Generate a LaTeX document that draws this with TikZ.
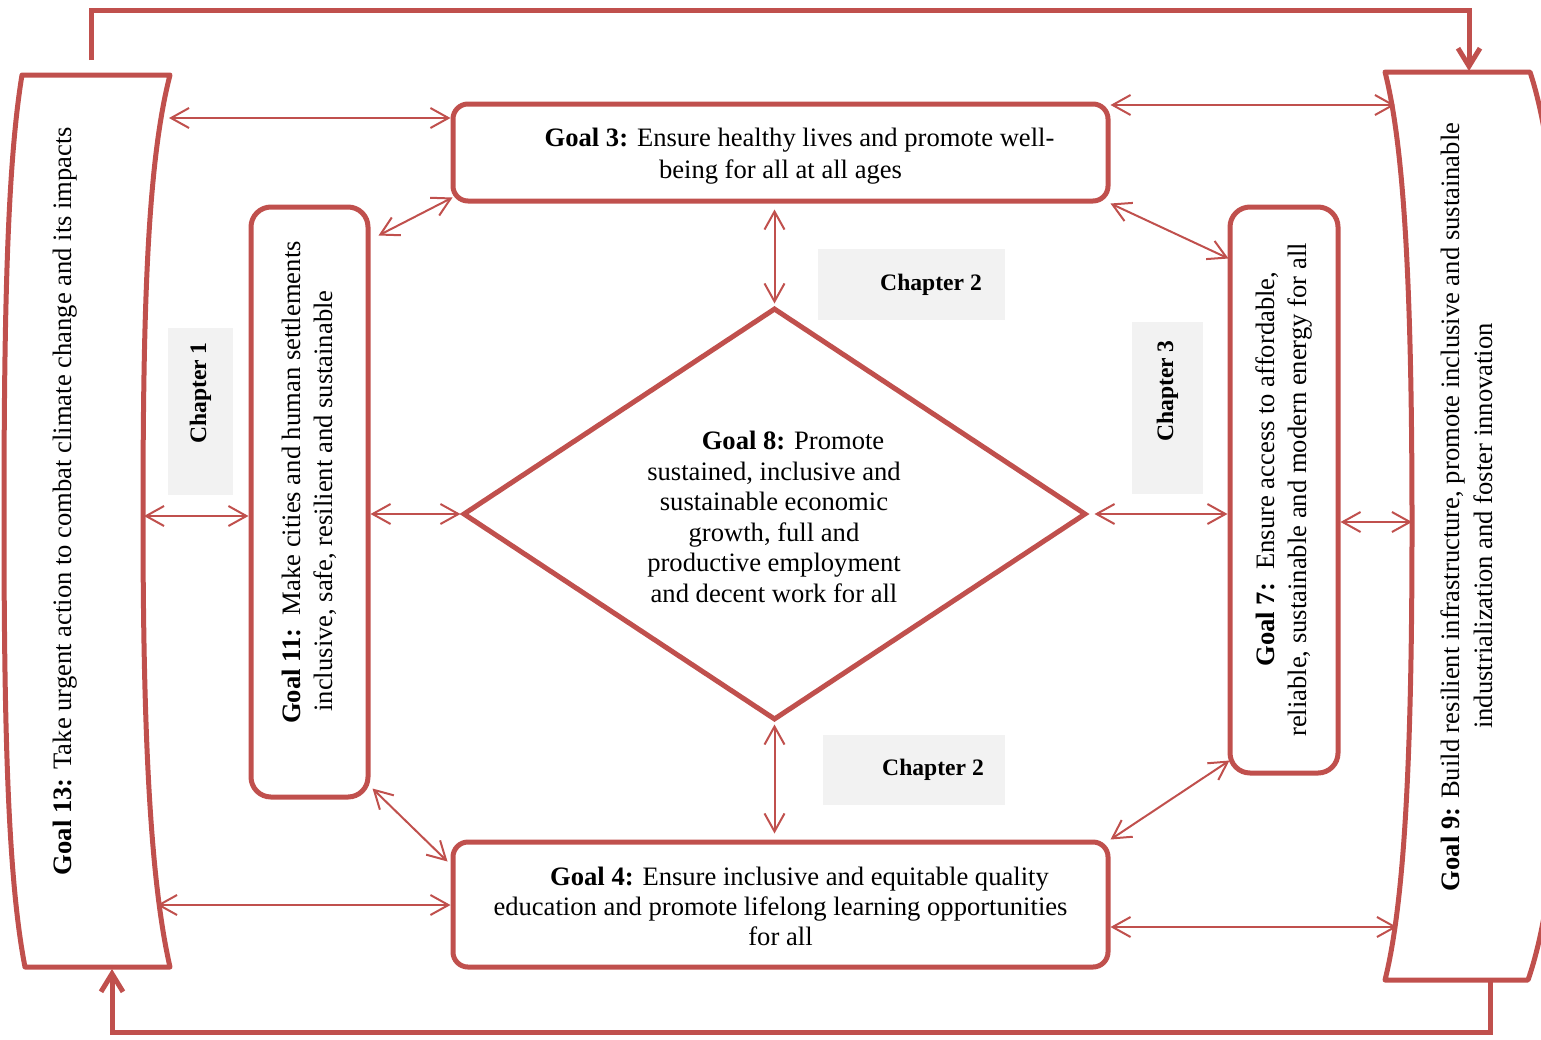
\documentclass[tikz,border=0pt]{standalone}
\usepackage{fontspec}
\setmainfont{Liberation Serif}
\usetikzlibrary{arrows.meta,calc,shapes.geometric}
\definecolor{sdgred}{RGB}{192,80,77}
\definecolor{chapgray}{RGB}{242,242,242}
\newcommand{\goalfont}{\fontsize{13.3}{16}\selectfont}
\newcommand{\goalfontb}{\fontsize{13.3}{15}\selectfont}
\newcommand{\goalfontc}{\fontsize{13.3}{15.25}\selectfont}
\newcommand{\chapfont}{\fontsize{11.8}{14}\selectfont\bfseries}
\begin{document}
\begin{tikzpicture}[x=0.5pt,y=-0.5pt,
  goalbox/.style={draw=sdgred, line width=2.5pt, rounded corners=7.5pt, inner sep=0pt},
  goaltext/.style={align=center, inner sep=0pt, font=\goalfont},
  vbox/.style={draw=sdgred, line width=2.5pt, rounded corners=10pt, inner sep=0pt},
  vtext/.style={rotate=90, align=center, inner sep=0pt, font=\goalfont},
  chapbox/.style={fill=chapgray, inner sep=0pt, font=\chapfont},
  link/.style={draw=sdgred, line width=1pt, <->, >={Straight Barb[length=9pt,width=10pt]}},
  bigarrow/.style={draw=sdgred, line width=2.5pt, ->, >={Straight Barb[length=9pt,width=11pt]}},
  scroll/.style={draw=sdgred, line width=2.5pt, line join=round}]

\useasboundingbox (0,0) rectangle (1541,1039);

% chapter labels
\node[chapbox, minimum width=93.5pt, minimum height=35.5pt] (ch2a) at (911.5,284.5) {\hspace*{19.5pt}Chapter 2};
\node[chapbox, minimum width=91pt, minimum height=35pt] (ch2b) at (914,770) {\hspace*{19pt}Chapter 2};
\node[chapbox, rotate=90, minimum width=83.5pt, minimum height=32.5pt] (ch1) at (200.5,411.5) {\hspace*{18.5pt}Chapter 1};
\node[chapbox, rotate=90, minimum width=86pt, minimum height=35.5pt] (ch3) at (1167.5,408) {\hspace*{17pt}Chapter 3};

% Goal 13 scroll
\draw[scroll] (22,75) -- (170,75) .. controls (148,160) and (143,300) .. (143,516)
  .. controls (143,730) and (150,880) .. (170,967) -- (25,967)
  .. controls (8,880) and (4,730) .. (4,516) .. controls (4,300) and (8,160) .. (22,75) -- cycle;
\node[vtext] (g13) at (65,501) {\textbf{Goal 13:} Take urgent action to combat climate change and its impacts};

% Goal 9 scroll
\draw[scroll] (1385,72) -- (1530,72) .. controls (1556,150) and (1566,300) .. (1566,526)
  .. controls (1566,750) and (1556,900) .. (1528,980) -- (1385,980)
  .. controls (1405,900) and (1412,750) .. (1412,526) .. controls (1412,300) and (1405,150) .. (1385,72) -- cycle;
\node[vtext, font=\fontsize{13.3}{16.5}\selectfont] (g9) at (1467,526) {\hspace*{19pt}\textbf{Goal 9:} Build resilient infrastructure, promote inclusive and sustainable\\industrialization and foster innovation};

% Goal boxes
\node[goalbox, minimum width=327.5pt, minimum height=48.5pt] (g3) at (780.5,152.5) {};
\node[goaltext] (g3t) at (780.5,156.5)
  {\hspace*{19pt}\textbf{Goal 3:} Ensure healthy lives and promote well-\\being for all at all ages};
\node[goalbox, minimum width=327.5pt, minimum height=62.5pt] (g4) at (780.5,904.5) {};
\node[goaltext, font=\goalfontb] (g4t) at (780.5,906.5)
  {\hspace*{19pt}\textbf{Goal 4:} Ensure inclusive and equitable quality\\education and promote lifelong learning opportunities\\for all};

\node[vbox, minimum width=58.5pt, minimum height=295pt] (g11) at (309.5,502) {};
\node[vtext] (g11t) at (309,501) {\hspace*{18.5pt}\textbf{Goal 11:}\ \ Make cities and human settlements\\inclusive, safe, resilient and sustainable};

\node[vbox, minimum width=54pt, minimum height=283pt] (g7) at (1284,490) {};
\node[vtext] (g7t) at (1284,490) {\hspace*{21pt}\textbf{Goal 7:}\ \ Ensure access to affordable,\\reliable, sustainable and modern energy for all};

\node[diamond, draw=sdgred, line width=2.5pt, minimum width=311.5pt, minimum height=206pt, inner sep=0pt] (d8) at (774.5,514) {};
\node[goaltext, font=\goalfontc] (g8) at (774,517)
  {\hspace*{19pt}\textbf{Goal 8:} Promote\\sustained, inclusive and\\sustainable economic\\growth, full and\\productive employment\\and decent work for all};

% connector end points on the scrolls
\coordinate (g13a) at (169,118);
\coordinate (g13b) at (144,516);
\coordinate (g13c) at (157,905);
\coordinate (g13top) at (91,60);
\coordinate (g13bot) at (112,969);
\coordinate (g9a) at (1395,105);
\coordinate (g9b) at (1412,522);
\coordinate (g9c) at (1397,927);
\coordinate (g9top) at (1469,71);
\coordinate (g9bot) at (1490,982);

% links
\draw[link] (g13a) -- (g13a -| g3.west);
\draw[link] (g9a -| g3.east) -- (g9a);
\draw[link] ($(g11.north east)+(8,31)$) -- ($(g3.south west)+(2,-6)$);
\draw[link] (g3.south east) -- ($(g7.north west)+(1,54)$);
\draw[link, shorten <=3pt, shorten >=1pt] (g3.south -| d8.north) -- (d8.north);
\draw[link] (g13b) -- (g13b -| g11.west);
\draw[link] (d8.west -| g11.east) -- (d8.west);
\draw[link, shorten <=3pt] (d8.east) -- (d8.east -| g7.west);
\draw[link] (g9b -| g7.east) -- (g9b);
\draw[link, shorten <=1pt, shorten >=3pt] (d8.south) -- (d8.south |- g4.north);
\draw[link] ($(g11.south east)+(2,-11)$) -- ($(g4.north west)+(-3,22)$);
\draw[link] (g4.north east) -- ($(g7.south west)+(2,-15)$);
\draw[link] (g13c) -- (g13c -| g4.west);
\draw[link] (g9c -| g4.east) -- (g9c);

% outer loop connectors
\draw[bigarrow] (g13top) -- ++(0,-50) -| (g9top);
\draw[bigarrow] (g9bot) -- ++(0,50) -| (g13bot);
\end{tikzpicture}
\end{document}
